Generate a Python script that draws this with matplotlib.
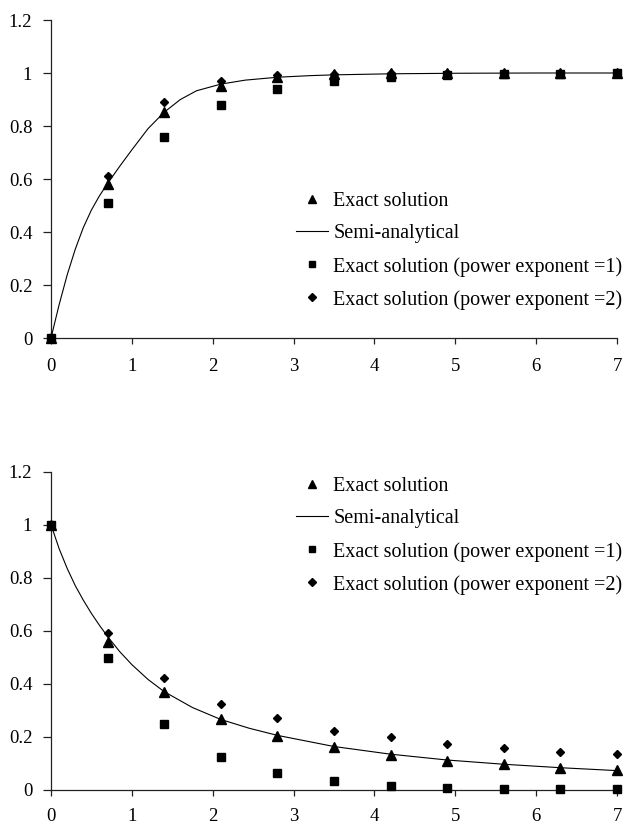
import matplotlib
matplotlib.use("Agg")
import matplotlib.pyplot as plt

plt.rcParams['font.family'] = ['Liberation Serif', 'DejaVu Serif']

# Sample points of the exact solutions
x_pts = [0, 0.7, 1.4, 2.1, 2.8, 3.5, 4.2, 4.9, 5.6, 6.3, 7.0]

# Upper panel
top_exact = [0, 0.58, 0.854, 0.951, 0.985, 0.995, 0.999, 1.0, 1.0, 1.0, 1.0]
top_pow1 = [0, 0.508, 0.757, 0.879, 0.94, 0.97, 0.985, 0.993, 0.996, 0.998, 0.999]
top_pow2 = [0, 0.612, 0.892, 0.971, 0.993, 0.998, 1.0, 1.0, 1.0, 1.0, 1.0]
top_curve_x = [0, 0.1, 0.2, 0.3, 0.4, 0.5, 0.6, 0.7, 0.85, 1.0, 1.2, 1.4, 1.6,
               1.8, 2.1, 2.4, 2.8, 3.2, 3.5, 4.2, 5.0, 6.0, 7.0]
top_curve_y = [0, 0.125, 0.238, 0.335, 0.417, 0.483, 0.537, 0.583, 0.648, 0.71,
               0.79, 0.852, 0.9, 0.933, 0.958, 0.973, 0.984, 0.99, 0.993,
               0.997, 0.999, 1.0, 1.0]

# Lower panel
bot_exact = [1.0, 0.558, 0.37, 0.268, 0.204, 0.162, 0.131, 0.108, 0.096, 0.083, 0.074]
bot_pow1 = [1.0, 0.496, 0.248, 0.125, 0.064, 0.034, 0.015, 0.007, 0.004, 0.002, 0.001]
bot_pow2 = [1.0, 0.59, 0.42, 0.323, 0.269, 0.223, 0.2, 0.172, 0.156, 0.142, 0.134]
bot_curve_x = [0, 0.1, 0.2, 0.3, 0.4, 0.5, 0.6, 0.7, 0.85, 1.0, 1.2, 1.4, 1.75,
               2.1, 2.45, 2.8, 3.5, 4.2, 4.9, 5.6, 6.3, 7.0]
bot_curve_y = [1.0, 0.91, 0.835, 0.77, 0.715, 0.665, 0.62, 0.578, 0.521, 0.472,
               0.416, 0.37, 0.31, 0.265, 0.232, 0.205, 0.163, 0.134, 0.112,
               0.096, 0.083, 0.072]

labels = ["Exact solution", "Semi-analytical",
          "Exact solution (power exponent =1)",
          "Exact solution (power exponent =2)"]
x_ticks = [0, 1, 2, 3, 4, 5, 6, 7]
y_ticks = [0, 0.2, 0.4, 0.6, 0.8, 1.0, 1.2]
y_ticklabels = ["0", "0.2", "0.4", "0.6", "0.8", "1", "1.2"]

fig = plt.figure(figsize=(6.26, 8.27), dpi=100)
W, H = 626, 827


def make_axes(top_px, bottom_px):
    return fig.add_axes([51 / W, 1 - bottom_px / H, 566 / W, (bottom_px - top_px) / H])


def draw_panel(ax, exact, pow1, pow2, cx, cy, legend_top, xlabel_pad):
    h_tri, = ax.plot(x_pts, exact, linestyle='none', marker='^', markersize=7,
                     color='black', clip_on=False, zorder=4)
    h_line, = ax.plot(cx, cy, color='black', linewidth=0.8, zorder=3)
    h_sq, = ax.plot(x_pts, pow1, linestyle='none', marker='s', markersize=5.8,
                    color='black', clip_on=False, zorder=4)
    h_dia, = ax.plot(x_pts, pow2, linestyle='none', marker='D', markersize=4.3,
                     color='black', clip_on=False, zorder=4)

    ax.set_xlim(0, 7)
    ax.set_ylim(0, 1.2)
    ax.set_xticks(x_ticks)
    ax.set_xticklabels([str(t) for t in x_ticks])
    ax.set_yticks(y_ticks)
    ax.set_yticklabels(y_ticklabels)
    for side in ('top', 'right'):
        ax.spines[side].set_visible(False)
    for side in ('left', 'bottom'):
        ax.spines[side].set_linewidth(0.9)
        ax.spines[side].set_color('#222222')
    ax.tick_params(axis='y', direction='out', length=5.5, width=0.9,
                   color='#222222', pad=8, labelsize=13.5)
    ax.tick_params(axis='x', direction='out', length=4.5, width=0.9,
                   color='#222222', pad=xlabel_pad, labelsize=13.5)

    ax.legend([h_tri, h_line, h_sq, h_dia], labels, frameon=False,
              loc='upper left', bbox_to_anchor=(296 / W, 1 - legend_top / H),
              bbox_transform=fig.transFigure, borderpad=0, borderaxespad=0,
              handlelength=1.6, handletextpad=0.25, labelspacing=0.66,
              fontsize=14.5, markerscale=0.85)


ax_top = make_axes(20, 338)
draw_panel(ax_top, top_exact, top_pow1, top_pow2,
           top_curve_x, top_curve_y, legend_top=192, xlabel_pad=10)

ax_bot = make_axes(471.7, 789.7)
draw_panel(ax_bot, bot_exact, bot_pow1, bot_pow2,
           bot_curve_x, bot_curve_y, legend_top=477, xlabel_pad=9)

fig.savefig("out.png", dpi=100)
